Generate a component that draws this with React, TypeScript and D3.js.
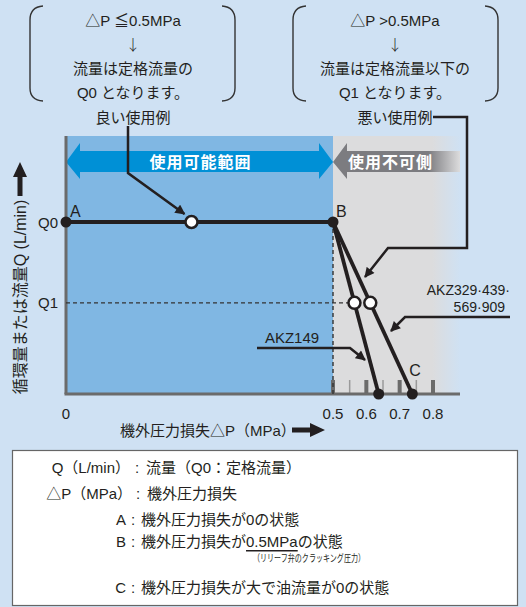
import React from "react";
import * as d3 from "d3";

const W = 526;
const H = 607;

// axis values (MPa) – the axis is stretched up to 0.5 and compressed after it
const pressureTicks = [0, 0.5, 0.6, 0.7, 0.8];
const minorTicks = [0.5, 0.55, 0.6, 0.65, 0.7, 0.75, 0.8];
const flowLevels = [
  { label: "Q0", value: 1 },
  { label: "Q1", value: 0.53 },
];

// curves (p = pressure loss MPa, q = flow relative to Q0)
const ratedFlow = [
  { p: 0, q: 1 },
  { p: 0.5, q: 1 },
];
const akz149 = [
  { p: 0.5, q: 1 },
  { p: 0.637, q: 0 },
];
const akz329 = [
  { p: 0.5, q: 1 },
  { p: 0.738, q: 0 },
];
const goodExampleP = 0.235;

const JP = "'Liberation Sans', 'Noto Sans CJK JP', sans-serif";
const CJK = "'Noto Sans CJK JP', sans-serif";
const INK = "#231f20";

const topBoxes = [
  { cx: 133, left: 30, right: 235, lines: ["△P ≦0.5MPa", "↓", "流量は定格流量の", "Q0 となります。"], caption: "良い使用例" },
  { cx: 395, left: 293, right: 498, lines: ["△P >0.5MPa", "↓", "流量は定格流量以下の", "Q1 となります。"], caption: "悪い使用例" },
];

const legendRows = [
  { key: "Q（L/min）", body: "流量（Q0：定格流量）", keyEnd: 130, colon: 137, start: 146, y: 467 },
  { key: "△P（MPa）", body: "機外圧力損失", keyEnd: 132, colon: 138, start: 147, y: 493 },
  { key: "A", body: "機外圧力損失が0の状態", keyEnd: 126, colon: 133, start: 141, y: 519 },
  { key: "B", body: "", keyEnd: 126, colon: 133, start: 141, y: 541 },
  { key: "C", body: "機外圧力損失が大で油流量が0の状態", keyEnd: 126, colon: 133, start: 141, y: 587 },
];

function bracket(x: number, dir: number) {
  // dir 1 = "(" , -1 = ")"
  const e = x + 13 * dir;
  return `M${e},6 Q${x},7 ${x},20 L${x},88 Q${x},100 ${e},101`;
}

function atFlow(line: { p: number; q: number }[], q: number) {
  const [a, b] = line;
  return a.p + ((a.q - q) / (a.q - b.q)) * (b.p - a.p);
}

export default function App() {
  const x = d3.scaleLinear().domain([0, 0.5, 0.8]).range([66, 333, 433]);
  const y = d3.scaleLinear().domain([0, 1]).range([394, 222]);
  const top = 136;
  const right = 460;
  const line = d3
    .line<{ p: number; q: number }>()
    .x((d) => x(d.p))
    .y((d) => y(d.q));

  const q0 = flowLevels[0].value;
  const q1 = flowLevels[1].value;
  const xB = x(0.5);
  const yMid = 162;

  return (
    <svg width={W} height={H} style={{ position: "absolute", left: 0, top: 0 }} fontFamily={JP}>
      <defs>
        <marker id="ah" viewBox="0 0 10 10" refX="9" refY="5" markerWidth="11" markerHeight="10" markerUnits="userSpaceOnUse" orient="auto">
          <path d="M0,0 L10,5 L0,10 Z" fill={INK} />
        </marker>
        <linearGradient id="grayFade" x1="0" x2="1">
          <stop offset="0.78" stopColor="#dcdcdd" />
          <stop offset="1" stopColor="#cfe1f3" />
        </linearGradient>
        <linearGradient id="arrowFade" x1="0" x2="1">
          <stop offset="0.75" stopColor="#7c7c80" />
          <stop offset="1" stopColor="#dcdcdd" />
        </linearGradient>
      </defs>
      <rect width={W} height={H} fill="#cfe1f3" />

      {/* top condition boxes */}
      {topBoxes.map((b, i) => (
        <g key={i}>
          <path d={bracket(b.left, 1)} fill="none" stroke="#333" strokeWidth={1.4} />
          <path d={bracket(b.right, -1)} fill="none" stroke="#333" strokeWidth={1.4} />
          {b.lines.map((t, j) => (
            <text
              key={j}
              x={b.cx}
              y={[20, 43, 68, 92][j]}
              textAnchor="middle"
              dominantBaseline="central"
              fontSize={15}
              fontFamily={j === 1 ? CJK : undefined}
              fontWeight={j === 1 ? 300 : undefined}
              fill={INK}
            >
              {t}
            </text>
          ))}
          <text x={b.cx} y={117} textAnchor="middle" dominantBaseline="central" fontSize={15} fill={INK}>
            {b.caption}
          </text>
        </g>
      ))}

      {/* plot regions */}
      <rect x={x(0)} y={top} width={xB - x(0)} height={y(0) - top} fill="#80b7e3" />
      <rect x={xB} y={top} width={right - xB} height={y(0) - top} fill="url(#grayFade)" />

      {/* usable range arrow */}
      <path
        d={`M${x(0)},${yMid} L${x(0) + 14},143 L${x(0) + 14},151 L${xB - 14},151 L${xB - 14},143 L${xB},${yMid} L${xB - 14},179 L${xB - 14},172 L${x(0) + 14},172 L${x(0) + 14},179 Z`}
        fill="#0090d6"
      />
      <text x={(x(0) + xB) / 2 + 1} y={yMid} textAnchor="middle" dominantBaseline="central" fontSize={16} fontWeight="bold" fill="#fff" letterSpacing={1}>
        使用可能範囲
      </text>
      {/* unusable side arrow */}
      <path d={`M${xB},${yMid} L${xB + 14},143 L${xB + 14},151 L${right},151 L${right},172 L${xB + 14},172 L${xB + 14},179 Z`} fill="url(#arrowFade)" />
      <text x={348} y={yMid} dominantBaseline="central" fontSize={16} fontWeight="bold" fill="#fff" letterSpacing={1}>
        使用不可側
      </text>

      {/* minor ticks */}
      {minorTicks.map((t, i) => (
        <line key={t} x1={x(t)} x2={x(t)} y1={y(0)} y2={y(0) - 14} stroke={i % 2 === 0 ? "#6b6b6b" : "#9a9a9a"} strokeWidth={i % 2 === 0 ? 4 : 1.5} />
      ))}

      {/* axes */}
      <line x1={x(0)} x2={x(0)} y1={top} y2={y(0)} stroke="#6b6b6b" strokeWidth={3} />
      <line x1={x(0) - 1.5} x2={right} y1={y(0)} y2={y(0)} stroke="#6b6b6b" strokeWidth={3} />

      {/* dashed guides */}
      <line x1={xB} x2={xB} y1={y(q0)} y2={y(0)} stroke="#333" strokeWidth={1.4} strokeDasharray="4,3" />
      <line x1={x(0)} x2={x(atFlow(akz149, q1))} y1={y(q1)} y2={y(q1)} stroke="#333" strokeWidth={1.4} strokeDasharray="4,3" />

      {/* leaders */}
      <g fill="none" stroke={INK} strokeWidth={2.5}>
        <polyline points={`128,126 128,173 ${x(goodExampleP) - 7},${y(q0) - 8}`} markerEnd="url(#ah)" />
        <polyline points={`433,117 467,117 467,248 388,248 365,277`} markerEnd="url(#ah)" />
        <polyline points={`257,348 350,348 365,360`} markerEnd="url(#ah)" />
        <polyline points={`510,317 405,317 391,331`} markerEnd="url(#ah)" />
      </g>

      {/* curves */}
      {[ratedFlow, akz149, akz329].map((d, i) => (
        <path key={i} d={line(d) || ""} fill="none" stroke={INK} strokeWidth={3.8} />
      ))}

      {/* open points */}
      {[
        { p: goodExampleP, q: q0 },
        { p: atFlow(akz149, q1), q: q1 },
        { p: atFlow(akz329, q1), q: q1 },
      ].map((d, i) => (
        <circle key={i} cx={x(d.p)} cy={y(d.q)} r={6} fill="#fff" stroke={INK} strokeWidth={2.5} />
      ))}
      {/* solid points */}
      {[ratedFlow[0], ratedFlow[1], akz149[1], akz329[1]].map((d, i) => (
        <circle key={i} cx={x(d.p)} cy={y(d.q)} r={5.5} fill={INK} />
      ))}

      {/* point labels */}
      <g fontSize={16} fill={INK}>
        <text x={x(0) + 4} y={y(q0) - 11} dominantBaseline="central">A</text>
        <text x={xB + 3} y={y(q0) - 11} dominantBaseline="central">B</text>
        <text x={x(akz329[1].p) - 3} y={y(0) - 24} dominantBaseline="central">C</text>
      </g>

      {/* flow level labels */}
      {flowLevels.map((f) => (
        <text key={f.label} x={58} y={y(f.value)} textAnchor="end" dominantBaseline="central" fontSize={15} fill={INK}>
          {f.label}
        </text>
      ))}

      {/* series labels */}
      <text x={292} y={337} textAnchor="middle" dominantBaseline="central" fontSize={15} fill={INK}>
        AKZ149
      </text>
      <text x={510} y={290} textAnchor="end" dominantBaseline="central" fontSize={14} fill={INK}>
        AKZ329·439·
      </text>
      <text x={505} y={306.5} textAnchor="end" dominantBaseline="central" fontSize={14} fill={INK}>
        569·909
      </text>

      {/* x tick labels */}
      {pressureTicks.map((t) => (
        <text key={t} x={x(t)} y={413} textAnchor="middle" dominantBaseline="central" fontSize={15} fill={INK}>
          {t === 0 ? "0" : d3.format(".1f")(t)}
        </text>
      ))}

      {/* axis titles */}
      <text x={120} y={430} dominantBaseline="central" fontSize={15} fill={INK}>
        機外圧力損失△P（MPa）
      </text>
      <path d="M292,427.5 L310,427.5 L310,423 L325,430 L310,437 L310,432.5 L292,432.5 Z" fill={INK} />

      <text transform="translate(20,297) rotate(-90)" textAnchor="middle" dominantBaseline="central" fontSize={16} fill={INK}>
        循環量または流量Q (L/min)
      </text>
      <path d="M17.5,196 L17.5,177 L13,177 L20,162 L27,177 L22.5,177 L22.5,196 Z" fill={INK} />

      {/* legend */}
      <rect x={12.5} y={450.5} width={505} height={155} fill="#fff" stroke="#666" strokeWidth={1.2} />
      {legendRows.map((r) => (
        <g key={r.key} fontSize={15} fill={INK}>
          <text x={r.keyEnd} y={r.y} textAnchor="end" dominantBaseline="central">
            {r.key}
          </text>
          <text x={r.colon} y={r.y} textAnchor="middle" dominantBaseline="central">
            :
          </text>
          <text x={r.start} y={r.y} dominantBaseline="central">
            {r.key === "B" ? (
              <>
                機外圧力損失が<tspan textDecoration="underline">0.5MPa</tspan>の状態
              </>
            ) : (
              r.body
            )}
          </text>
        </g>
      ))}
      <text x={253} y={558} dominantBaseline="central" fontSize={10} fill={INK} textLength={112} lengthAdjust="spacingAndGlyphs">
        （リリーフ弁のクラッキング圧力）
      </text>
    </svg>
  );
}
